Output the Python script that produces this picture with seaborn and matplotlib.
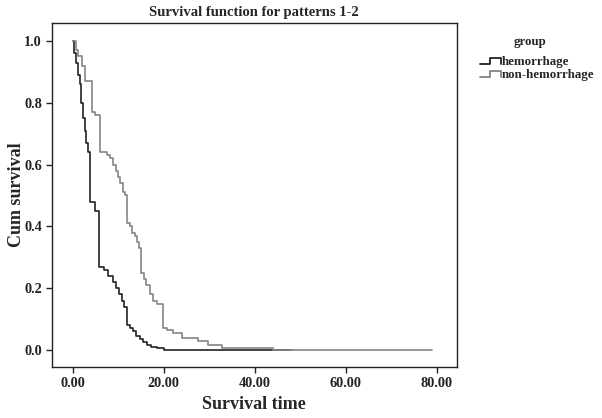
import matplotlib
matplotlib.use('Agg')
import matplotlib.pyplot as plt
from matplotlib.legend_handler import HandlerBase
from matplotlib.lines import Line2D
import seaborn as sns
import pandas as pd

# Kaplan-Meier steps (time, cum survival after the step)
hem_time = [0, 0.3, 0.8, 1.2, 1.5, 1.9, 2.2, 2.6, 3.0, 3.3, 3.7, 4.8, 5.7, 6.8, 7.8,
            8.8, 9.5, 10.2, 10.8, 11.3, 11.9, 12.5, 13.2, 14.0, 14.7, 15.5, 16.3,
            17.2, 18.5, 20.0, 48.0]
hem_surv = [1.0, 0.96, 0.93, 0.89, 0.86, 0.80, 0.75, 0.71, 0.67, 0.64, 0.48, 0.45, 0.27,
            0.26, 0.24, 0.22, 0.20, 0.18, 0.16, 0.14, 0.08, 0.07, 0.06, 0.045, 0.035,
            0.025, 0.015, 0.01, 0.005, 0.0, 0.0]

non_time = [0, 0.8, 1.2, 2.0, 2.6, 2.8, 4.2, 4.8, 5.9, 7.5, 8.1, 8.8, 9.4, 9.9, 10.4,
            11.0, 11.4, 11.9, 12.5, 13.0, 13.6, 14.1, 14.6, 15.0, 15.6, 16.2, 16.9,
            17.6, 18.5, 19.8, 20.8, 22.0, 24.0, 27.5, 29.7, 32.8, 44.0, 79.0]
non_surv = [1.0, 0.97, 0.95, 0.92, 0.90, 0.87, 0.77, 0.76, 0.64, 0.63, 0.62, 0.60, 0.58,
            0.56, 0.54, 0.51, 0.50, 0.41, 0.40, 0.38, 0.37, 0.35, 0.33, 0.25, 0.23,
            0.21, 0.18, 0.16, 0.15, 0.07, 0.065, 0.055, 0.04, 0.03, 0.016, 0.006, 0.0, 0.0]

groups = ['hemorrhage', 'non-hemorrhage']
colors = ['#222222', '#858585']
x_ticks = [0, 20, 40, 60, 80]
y_ticks = [0.0, 0.2, 0.4, 0.6, 0.8, 1.0]

df = pd.concat([
    pd.DataFrame({'time': hem_time, 'surv': hem_surv, 'group': groups[0]}),
    pd.DataFrame({'time': non_time, 'surv': non_surv, 'group': groups[1]}),
])

sns.set_style('ticks')
plt.rcParams['font.family'] = ['Liberation Serif', 'DejaVu Serif']
plt.rcParams['font.weight'] = 'bold'

fig = plt.figure(figsize=(6.02, 4.18), dpi=100)
ax = fig.add_axes([0.086, 0.122, 0.673, 0.823])

sns.lineplot(data=df, x='time', y='surv', hue='group', hue_order=groups,
             palette=colors, drawstyle='steps-post', estimator=None, sort=False,
             linewidth=1.2, ax=ax, legend=False)

ax.set_xlim(-4.6, 84.4)
ax.set_ylim(-0.055, 1.058)
ax.set_xticks(x_ticks)
ax.set_xticklabels([f'{v:.2f}' for v in x_ticks], fontsize=10.3, fontweight='bold')
ax.set_yticks(y_ticks)
ax.set_yticklabels([f'{v:.1f}' for v in y_ticks], fontsize=10.3, fontweight='bold')
ax.tick_params(direction='out', length=4, width=1, colors='#222222', pad=3)
for s in ax.spines.values():
    s.set_visible(True)
    s.set_linewidth(1.0)
    s.set_color('#222222')

ax.set_xlabel('Survival time', fontsize=13, fontweight='bold')
ax.set_ylabel('Cum survival', fontsize=13, fontweight='bold')
ax.xaxis.set_label_coords(0.5, -0.084)
ax.yaxis.set_label_coords(-0.066, 0.5)
ax.set_title('Survival function for patterns 1-2', fontsize=10.5, fontweight='bold', pad=5)


# step-shaped legend keys, like the SPSS output
class StepHandler(HandlerBase):
    def create_artists(self, legend, orig_handle, xdescent, ydescent, width, height, fontsize, trans):
        x0, x1 = -xdescent, -xdescent + width
        y0, y1 = -ydescent + height * 0.15, -ydescent + height * 0.75
        xm = x0 + width * 0.45
        xs = [x0, xm, xm, x1, x1]
        ys = [y0, y0, y1, y1, y0]
        ln = Line2D(xs, ys, color=orig_handle.get_color(), linewidth=1.3, transform=trans)
        return [ln]


handles = [Line2D([], [], color=c) for c in colors]
leg = fig.legend(handles, groups, loc='upper left',
                 bbox_to_anchor=(0.783, 0.888), frameon=False,
                 handler_map={Line2D: StepHandler()}, handlelength=1.6,
                 handletextpad=0.05, labelspacing=0.08, borderpad=0.2,
                 prop={'size': 9.3, 'weight': 'bold'})
fig.text(0.88, 0.9, 'group', ha='center', va='center', fontsize=9.3, fontweight='bold')

fig.savefig('out.png', dpi=100)
